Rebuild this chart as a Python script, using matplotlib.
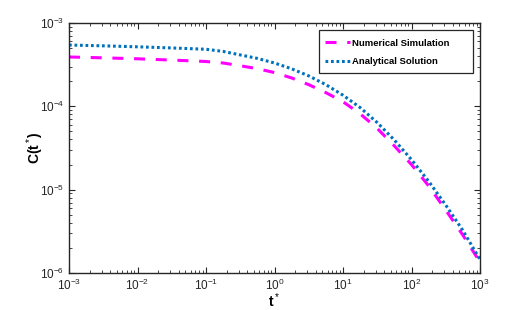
import matplotlib
matplotlib.use("Agg")
import matplotlib.pyplot as plt
from matplotlib.ticker import LogLocator
from matplotlib.patches import Rectangle

plt.rcParams['font.family'] = ['Liberation Sans', 'DejaVu Sans']
plt.rcParams['mathtext.fontset'] = 'custom'
plt.rcParams['mathtext.rm'] = 'Liberation Sans'
plt.rcParams['mathtext.it'] = 'Liberation Sans:italic'
plt.rcParams['mathtext.bf'] = 'Liberation Sans:bold'

t_values = [1e-3, 3.16e-3, 1e-2, 3.16e-2, 1e-1, 1.78e-1, 3.16e-1, 5.62e-1, 1.0,
            1.78, 3.16, 5.62, 10.0, 17.8, 31.6, 56.2, 100.0, 178.0, 316.0, 562.0, 1000.0]
numerical = [3.91e-4, 3.82e-4, 3.72e-4, 3.59e-4, 3.45e-4, 3.31e-4, 3.07e-4, 2.83e-4, 2.54e-4,
             2.19e-4, 1.82e-4, 1.46e-4, 1.135e-4, 8.13e-5, 5.43e-5, 3.35e-5, 2.0e-5,
             1.11e-5, 5.69e-6, 2.85e-6, 1.35e-6]
analytical = [5.44e-4, 5.32e-4, 5.18e-4, 5.02e-4, 4.84e-4, 4.56e-4, 4.14e-4, 3.76e-4, 3.31e-4,
              2.82e-4, 2.32e-4, 1.82e-4, 1.36e-4, 9.66e-5, 6.38e-5, 3.94e-5, 2.29e-5,
              1.26e-5, 6.53e-6, 3.24e-6, 1.45e-6]

W, H = 530, 310
fig = plt.figure(figsize=(W/100, H/100), dpi=100)
ax = fig.add_axes([69/W, 37/H, 411/W, 250/H])

ax.plot(t_values, numerical, color='#FF00FF', lw=2.2, dashes=(3.6, 3.5),
        dash_capstyle='butt', label='Numerical Simulation')
ax.plot(t_values, analytical, color='#0072BD', lw=2.2, linestyle=(0, (0.9, 0.9)),
        dash_capstyle='butt', label='Analytical Solution')

ax.set_xscale('log')
ax.set_yscale('log')
ax.set_xlim(1e-3, 1e3)
ax.set_ylim(1e-6, 1e-3)

ax.xaxis.set_major_locator(LogLocator(base=10, numticks=20))
ax.yaxis.set_major_locator(LogLocator(base=10, numticks=20))
ax.xaxis.set_minor_locator(LogLocator(base=10, subs=range(2, 10), numticks=20))
ax.yaxis.set_minor_locator(LogLocator(base=10, subs=range(2, 10), numticks=20))

ax.tick_params(which='both', direction='in', top=True, right=True,
               color='#262626', labelcolor='#262626', labelsize=8.5)
ax.tick_params(which='major', length=4, width=0.8)
ax.tick_params(which='minor', length=2, width=0.6)
for s in ax.spines.values():
    s.set_color('#262626')
    s.set_linewidth(1.0)

ax.set_xlabel(r't$^*$', fontsize=10, fontweight='bold')
ax.xaxis.set_label_coords(0.5, -0.075)
ax.set_ylabel(r'C(t$^*$)', fontsize=10, fontweight='bold')
ax.yaxis.set_label_coords(-0.056, 0.5)

# MATLAB-style legend box (wider on the right)
box = Rectangle((319/W, 1 - 73/H), 154/W, 43/H, transform=fig.transFigure,
                facecolor='white', edgecolor='#262626', lw=0.9, zorder=4)
ax.add_patch(box)
leg = ax.legend(loc='upper left', bbox_to_anchor=(325/W, 1 - 38.5/H),
                bbox_transform=fig.transFigure, borderaxespad=0, borderpad=0,
                fontsize=6.8, frameon=False, handlelength=2.6,
                labelspacing=1.02, handletextpad=0.3)
leg.set_zorder(5)
for txt in leg.get_texts():
    txt.set_fontweight('bold')

fig.savefig('out.png', dpi=100)
